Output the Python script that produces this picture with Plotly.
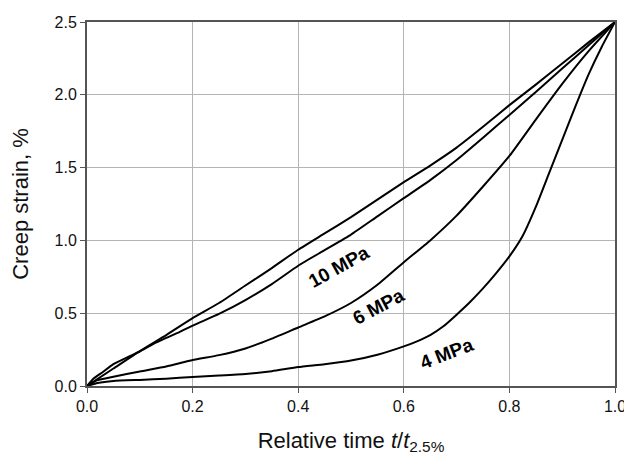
import plotly.graph_objects as go

# Relative time t/t2.5% and creep strain (%)
x_a = [0, 0.05, 0.1, 0.15, 0.2, 0.25, 0.3, 0.35, 0.4, 0.45, 0.5, 0.55, 0.6, 0.65, 0.7, 0.75, 0.8, 0.85, 0.9, 0.95, 1.0]
y_a = [0, 0.12, 0.24, 0.35, 0.466, 0.57, 0.69, 0.81, 0.936, 1.048, 1.16, 1.28, 1.40, 1.514, 1.637, 1.78, 1.929, 2.07, 2.215, 2.36, 2.5]

x_b = [0, 0.012, 0.03, 0.05, 0.075, 0.1, 0.125, 0.15, 0.175, 0.2, 0.25, 0.3, 0.35, 0.4, 0.45, 0.5, 0.55, 0.6, 0.65, 0.7, 0.75, 0.8, 0.85, 0.9, 0.95, 1.0]
y_b = [0, 0.05, 0.096, 0.15, 0.195, 0.237, 0.287, 0.33, 0.37, 0.415, 0.495, 0.59, 0.70, 0.826, 0.933, 1.04, 1.165, 1.29, 1.414, 1.552, 1.705, 1.862, 2.02, 2.18, 2.34, 2.5]

x_c = [0, 0.02, 0.05, 0.1, 0.15, 0.2, 0.25, 0.3, 0.35, 0.4, 0.45, 0.5, 0.55, 0.6, 0.65, 0.7, 0.75, 0.8, 0.85, 0.9, 0.95, 1.0]
y_c = [0, 0.04, 0.063, 0.10, 0.134, 0.178, 0.212, 0.258, 0.325, 0.402, 0.478, 0.57, 0.695, 0.85, 1.0, 1.17, 1.37, 1.58, 1.83, 2.075, 2.30, 2.5]

x_d = [0, 0.02, 0.05, 0.1, 0.15, 0.2, 0.25, 0.3, 0.35, 0.4, 0.45, 0.5, 0.55, 0.6, 0.625, 0.65, 0.675, 0.7, 0.725, 0.75, 0.775, 0.8, 0.825, 0.85, 0.875, 0.9, 0.925, 0.95, 0.975, 1.0]
y_d = [0, 0.02, 0.034, 0.042, 0.05, 0.062, 0.072, 0.083, 0.102, 0.13, 0.15, 0.175, 0.215, 0.272, 0.307, 0.35, 0.41, 0.49, 0.575, 0.67, 0.775, 0.89, 1.03, 1.23, 1.46, 1.69, 1.92, 2.14, 2.33, 2.5]

labels = ["10 MPa", "6 MPa", "4 MPa"]
label_x = [0.4775, 0.5525, 0.681]
label_y = [0.82, 0.544, 0.225]
label_angle = [-29, -28, -21]

x_ticks = [0.0, 0.2, 0.4, 0.6, 0.8, 1.0]
y_ticks = [0.0, 0.5, 1.0, 1.5, 2.0, 2.5]

FONT = "Liberation Sans, Arial, sans-serif"

fig = go.Figure()
for xs, ys in [(x_a, y_a), (x_b, y_b), (x_c, y_c), (x_d, y_d)]:
    fig.add_trace(go.Scatter(x=xs, y=ys, mode="lines",
                             line=dict(color="black", width=2, shape="spline", smoothing=0.5),
                             showlegend=False, hoverinfo="skip"))

for t, lx, ly, ang in zip(labels, label_x, label_y, label_angle):
    fig.add_annotation(x=lx, y=ly, xref="x", yref="y", text="<b>%s</b>" % t,
                       showarrow=False, textangle=ang,
                       font=dict(family=FONT, size=19, color="black"))

axis_common = dict(showgrid=True, gridcolor="#b4b4b4", gridwidth=1,
                   showline=True, linecolor="#555555", linewidth=2, mirror=True,
                   ticks="outside", ticklen=5, tickcolor="#555555", tickwidth=1,
                   zeroline=False, ticklabeloverflow="allow",
                   tickfont=dict(family=FONT, size=16, color="#111111"))

fig.update_xaxes(range=[0, 1], tickvals=x_ticks, ticktext=["%.1f" % v for v in x_ticks],
                 title=dict(text="Relative time <i>t</i>/<i>t</i><sub>2.5%</sub>",
                            font=dict(family=FONT, size=22, color="#111111"),
                            standoff=18),
                 **axis_common)
fig.update_yaxes(range=[0, 2.5], tickvals=y_ticks, ticktext=["%.1f" % v for v in y_ticks],
                 title=dict(text="Creep strain, %",
                            font=dict(family=FONT, size=22, color="#111111"),
                            standoff=20),
                 **axis_common)

# the page body has an 8px margin, so the figure is sized/offset to compensate
fig.update_layout(width=624, height=458, margin=dict(l=79, r=12, t=6, b=80),
                  plot_bgcolor="white", paper_bgcolor="white")

fig.write_html("out.html")
